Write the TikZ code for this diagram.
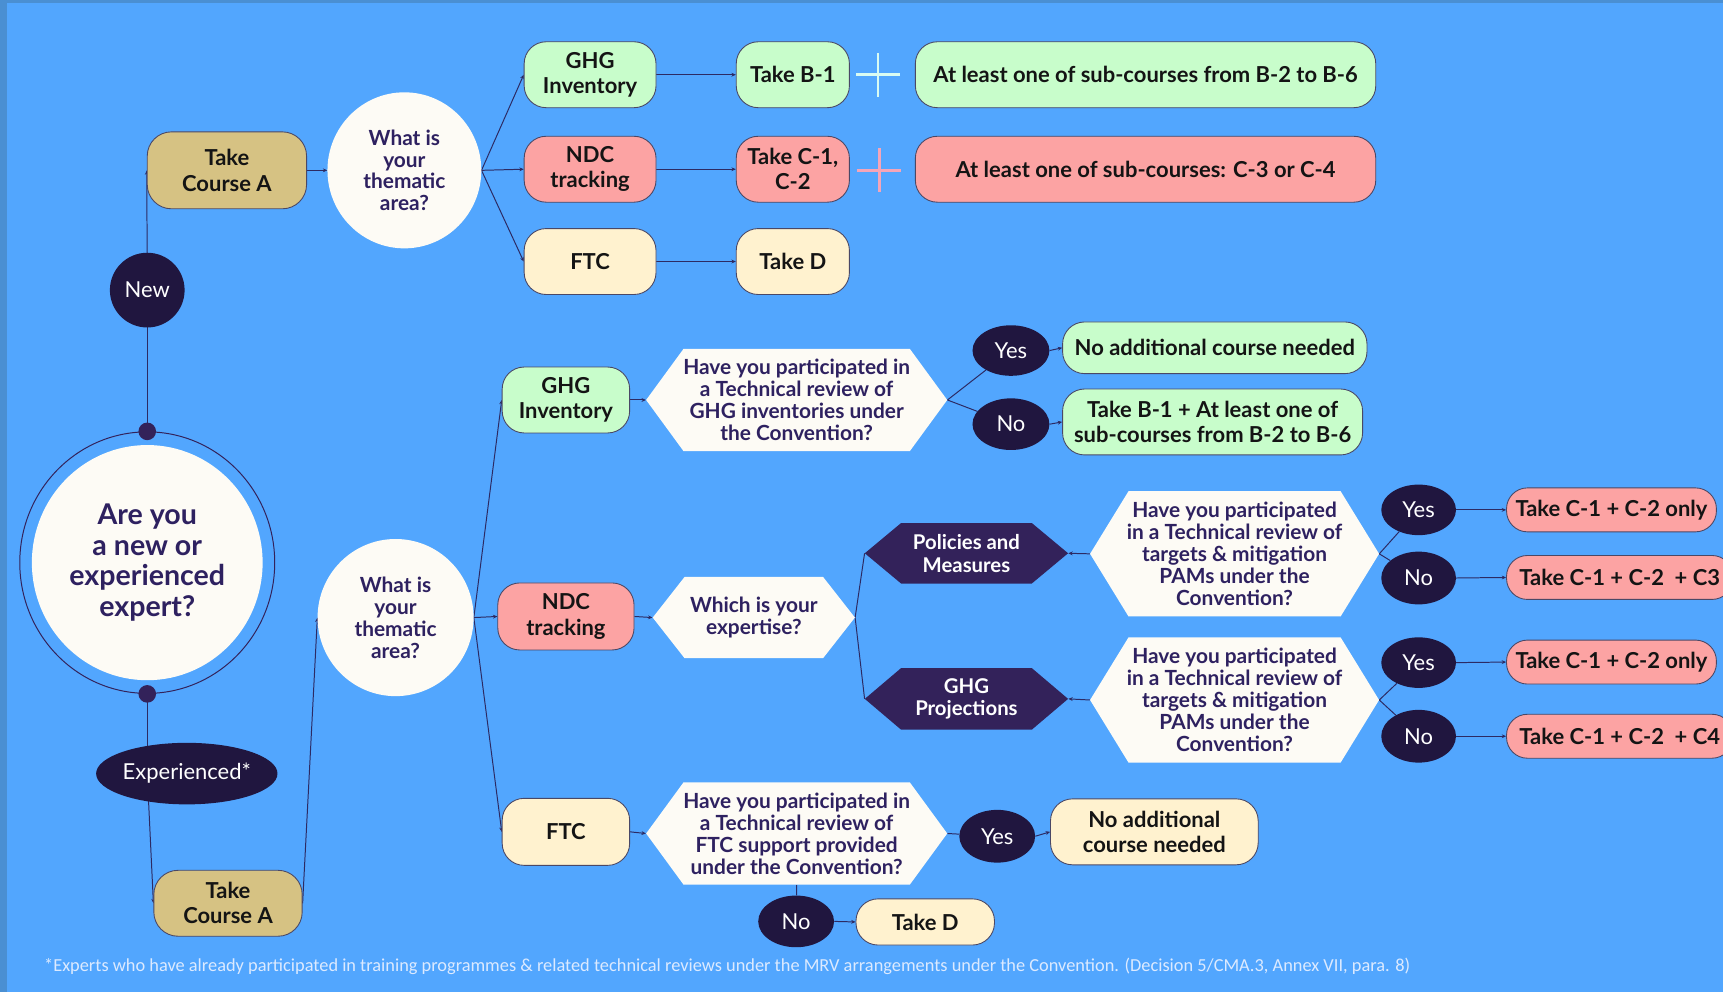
\documentclass[tikz,border=0pt]{standalone}
\usepackage{fontspec}
\setmainfont{Lato}
\newfontfamily\fnfont{Carlito}
\usetikzlibrary{shapes.geometric,arrows.meta}
\definecolor{bgblue}{HTML}{52A6FE}
\definecolor{frameblue}{HTML}{4A8FD2}
\definecolor{mint}{HTML}{C8FDCB}
\definecolor{rose}{HTML}{FCA3A3}
\definecolor{cream}{HTML}{FFF2CF}
\definecolor{tanbox}{HTML}{D6C283}
\definecolor{offwhite}{HTML}{FDFBF5}
\definecolor{navy}{HTML}{20163F}
\definecolor{plum}{HTML}{33225A}
\definecolor{qtext}{HTML}{2E2160}
\definecolor{linec}{HTML}{2C2A63}
\definecolor{edgec}{HTML}{4A4866}
\definecolor{fncol}{HTML}{DCEAFF}
\definecolor{pluscyan}{HTML}{D8FBF2}
\definecolor{pluspink}{HTML}{F5A5B8}
\newcommand\fsz[2]{\fontsize{#1}{#2}\selectfont}
\pgfdeclarelayer{bg}
\pgfsetlayers{bg,main}
\tikzset{
  box/.style={rectangle, rounded corners=20pt, draw=edgec, line width=0.8pt, inner sep=0pt,
    align=center, text=black!92, font=\bfseries\fsz{20}{23}},
  greenbox/.style={box, fill=mint},
  redbox/.style={box, fill=rose},
  yellowbox/.style={box, fill=cream},
  tanbx/.style={box, fill=tanbox, rounded corners=22pt, font=\bfseries\fsz{20}{23}},
  thinbox/.style={rounded corners=19pt},
  qell/.style={ellipse, fill=offwhite, inner sep=0pt, align=center, text=qtext,
    font=\bfseries\fsz{19}{20}},
  dark/.style={ellipse, fill=navy, inner sep=0pt, text=white, font=\fsz{20}{22}},
  dot/.style={circle, fill=plum, inner sep=0pt, minimum size=16pt},
  hexfill q/.style={fill=offwhite},
  hexfill d/.style={fill=plum},
  hextext q/.style={rectangle, inner sep=0pt, align=center, text=qtext, font=\bfseries\fsz{19}{20}},
  hextext d/.style={rectangle, inner sep=0pt, align=center, text=white, font=\bfseries\fsz{18.5}{20.5}},
  conn/.style={draw=linec, line width=0.9pt},
  arr/.style={conn, -{Stealth[length=4pt,width=3.5pt]}},
  plusline/.style={line width=2.6pt},
}
% name, x, y, half width, half height, indent, kind (q/d), text
\newcommand\hexn[8]{%
  \fill[hexfill #7] ({#2-#4},{#3}) -- ({#2-#4+#6},{#3-#5}) -- ({#2+#4-#6},{#3-#5}) -- ({#2+#4},{#3})
     -- ({#2+#4-#6},{#3+#5}) -- ({#2-#4+#6},{#3+#5}) -- cycle;
  \node[hextext #7, minimum width={2*#4 pt}, minimum height={2*#5 pt}] (#1) at (#2,#3) {#8};}

\begin{document}
\begin{tikzpicture}[x=1pt,y=-1pt]
\useasboundingbox (0,0) rectangle (1568,903);
\clip (0,0) rectangle (1568,903);

% ---------- top branch (new experts)
\node[tanbx, minimum width=145pt, minimum height=70pt] (tcaTop) at (206.5,155) {Take\\Course A};
\node[qell, minimum width=140pt, minimum height=142pt] (qTop) at (368,155) {What is\\your\\thematic\\area?};
\node[greenbox, minimum width=120pt, minimum height=60pt] (ghgT) at (537,68) {GHG\\Inventory};
\node[redbox, minimum width=120pt, minimum height=60pt] (ndcT) at (537,154) {NDC\\tracking};
\node[yellowbox, minimum width=120pt, minimum height=60pt] (ftcT) at (537,238) {FTC};
\node[greenbox, minimum width=103pt, minimum height=60pt] (b1) at (721.5,68) {Take B-1};
\node[redbox, minimum width=103pt, minimum height=60pt] (c12) at (721.5,154) {Take C-1,\\C-2};
\node[yellowbox, minimum width=103pt, minimum height=60pt] (dT) at (721.5,238) {Take D};
\node[greenbox, minimum width=419pt, minimum height=60pt] (atB) at (1042.5,68) {At least one of sub-courses from B-2 to B-6};
\node[redbox, minimum width=419pt, minimum height=60pt] (atC) at (1042.5,154) {At least one of sub-courses: C-3 or C-4};
\draw[plusline, pluscyan] (779,68) -- (819,68) (799,48) -- (799,88);
\draw[plusline, pluspink] (780,155) -- (820,155) (800,135) -- (800,175);

% ---------- start question
\node[dark, minimum width=68pt, minimum height=68pt] (new) at (134,264) {New};
\node[ellipse, draw=plum, line width=0.9pt, minimum width=232pt, minimum height=238pt] (ring) at (134,512) {};
\node[qell, minimum width=210pt, minimum height=214pt, font=\bfseries\fsz{26}{28}] (q0) at (134,512) {Are you\\a new or\\experienced\\expert?};
\node[dot] (dotTop) at (ring.north) {};
\node[dot] (dotBot) at (ring.south) {};
\node[dark, minimum width=164pt, minimum height=56pt] (exp) at (170,704) {Experienced*};
\node[tanbx, minimum width=135pt, minimum height=60pt] (tcaBot) at (207.5,822) {Take\\Course A};

% ---------- experienced branch
\node[qell, minimum width=142pt, minimum height=143pt] (qMid) at (360,562) {What is\\your\\thematic\\area?};
\node[greenbox, minimum width=116pt, minimum height=60pt] (ghg2) at (515,364) {GHG\\Inventory};
\node[redbox, minimum width=124pt, minimum height=61pt] (ndc2) at (515,561) {NDC\\tracking};
\node[yellowbox, minimum width=116pt, minimum height=61pt] (ftc2) at (515,757) {FTC};

\hexn{q1}{725}{364}{137}{46.5}{34}{q}{Have you participated in\\a Technical review of\\GHG inventories under\\the Convention?}
\node[dark, minimum width=70pt, minimum height=46pt] (y1) at (920,319) {Yes};
\node[dark, minimum width=70pt, minimum height=47pt] (n1) at (920,386) {No};
\node[greenbox, minimum width=277pt, minimum height=47pt] (noAdd1) at (1105.5,316.5) {No additional course needed};
\node[greenbox, minimum width=273pt, minimum height=60pt] (tb1) at (1103.5,384) {Take B-1 + At least one of\\sub-courses from B-2 to B-6};

\hexn{which}{686}{562}{92}{37}{29}{q}{Which is your\\expertise?}
\hexn{pam}{879.5}{503.5}{92.5}{27.5}{33}{d}{Policies and\\Measures}
\hexn{ghgp}{879.5}{636}{92.5}{28}{33}{d}{GHG\\Projections}
\hexn{q2}{1123.5}{504}{131.5}{57}{35}{q}{Have you participated\\in a Technical review of\\targets \& mitigation\\PAMs under the\\Convention?}
\hexn{q3}{1123.5}{637}{131.5}{57}{35}{q}{Have you participated\\in a Technical review of\\targets \& mitigation\\PAMs under the\\Convention?}
\node[dark, minimum width=68pt, minimum height=46pt] (y2) at (1291,464) {Yes};
\node[dark, minimum width=68pt, minimum height=48pt] (n2) at (1291,526) {No};
\node[dark, minimum width=68pt, minimum height=46pt] (y3) at (1291,603) {Yes};
\node[dark, minimum width=68pt, minimum height=48pt] (n3) at (1291,670) {No};
\node[redbox, thinbox, minimum width=191pt, minimum height=40pt] (cA) at (1466.5,464) {Take C-1 + C-2 only};
\node[redbox, thinbox, minimum width=206pt, minimum height=40pt] (cB) at (1474,525.5) {Take C-1 + C-2\ \ + C3};
\node[redbox, thinbox, minimum width=191pt, minimum height=40pt] (cC) at (1466.5,602.5) {Take C-1 + C-2 only};
\node[redbox, thinbox, minimum width=206pt, minimum height=40pt] (cD) at (1474,670) {Take C-1 + C-2\ \ + C4};

\hexn{q4}{725}{758.5}{137}{46.5}{34}{q}{Have you participated in\\a Technical review of\\FTC support provided\\under the Convention?}
\node[dark, minimum width=69pt, minimum height=48pt] (y4) at (907.5,761) {Yes};
\node[yellowbox, minimum width=189pt, minimum height=60pt] (noAdd2) at (1050.5,757) {No additional\\course needed};
\node[dark, minimum width=69pt, minimum height=47pt] (n4) at (724.5,838.5) {No};
\node[yellowbox, minimum width=126pt, minimum height=42pt] (dB) at (842,839) {Take D};

\node[anchor=west, inner sep=0pt, text=fncol, font=\fnfont\fsz{16.7}{19}] (fn) at (40,879)
  {*Experts who have already participated in training programmes \& related technical reviews under the MRV arrangements under the Convention. (Decision 5/CMA.3, Annex VII, para. 8)};

% ---------- background and connectors
\begin{pgfonlayer}{bg}
\fill[bgblue] (0,0) rectangle (1568,903);
\fill[frameblue] (0,0) rectangle (6,903);
\fill[frameblue] (0,0) rectangle (1568,3);

\draw[arr] (tcaTop.east) -- (qTop.west);
\draw[arr] (qTop.east) -- (ghgT.west);
\draw[arr] (qTop.east) -- (ndcT.west);
\draw[arr] (qTop.east) -- (ftcT.west);
\draw[arr] (ghgT.east) -- (b1.west);
\draw[arr] (ndcT.east) -- (c12.west);
\draw[arr] (ftcT.east) -- (dT.west);

\draw[conn] (dotTop.center) -- (new.center);
\draw[arr] (new.center) -- (tcaTop.west);
\draw[conn] (dotBot.center) -- ([xshift=-36pt]exp.center);
\draw[arr] ([xshift=-36pt]exp.center) -- (tcaBot.west);
\draw[arr] (tcaBot.east) -- (qMid.west);

\draw[arr] (qMid.east) -- (ghg2.west);
\draw[arr] (qMid.east) -- (ndc2.west);
\draw[arr] (qMid.east) -- (ftc2.west);
\draw[arr] (ghg2.east) -- (q1.west);
\draw[arr] (ndc2.east) -- (which.west);
\draw[arr] (ftc2.east) -- (q4.west);

\draw[conn] (q1.east) -- (y1);
\draw[conn] (q1.east) -- (n1);
\draw[arr] (y1.east) -- (noAdd1.west);
\draw[arr] (n1.east) -- (tb1.west);

\draw[conn] (which.east) -- (pam.west);
\draw[conn] (which.east) -- (ghgp.west);
\draw[arr] (q2.west) -- (pam.east);
\draw[arr] (q3.west) -- (ghgp.east);
\draw[conn] (q2.east) -- (y2);
\draw[conn] (q2.east) -- (n2);
\draw[conn] (q3.east) -- (y3);
\draw[conn] (q3.east) -- (n3);
\draw[arr] (y2.east) -- (cA.west);
\draw[arr] (n2.east) -- (cB.west);
\draw[arr] (y3.east) -- (cC.west);
\draw[arr] (n3.east) -- (cD.west);

\draw[conn] (q4.east) -- (y4);
\draw[arr] (y4.east) -- (noAdd2.west);
\draw[conn] (q4.south) -- (n4);
\draw[arr] (n4.east) -- (dB.west);
\end{pgfonlayer}
\end{tikzpicture}
\end{document}
